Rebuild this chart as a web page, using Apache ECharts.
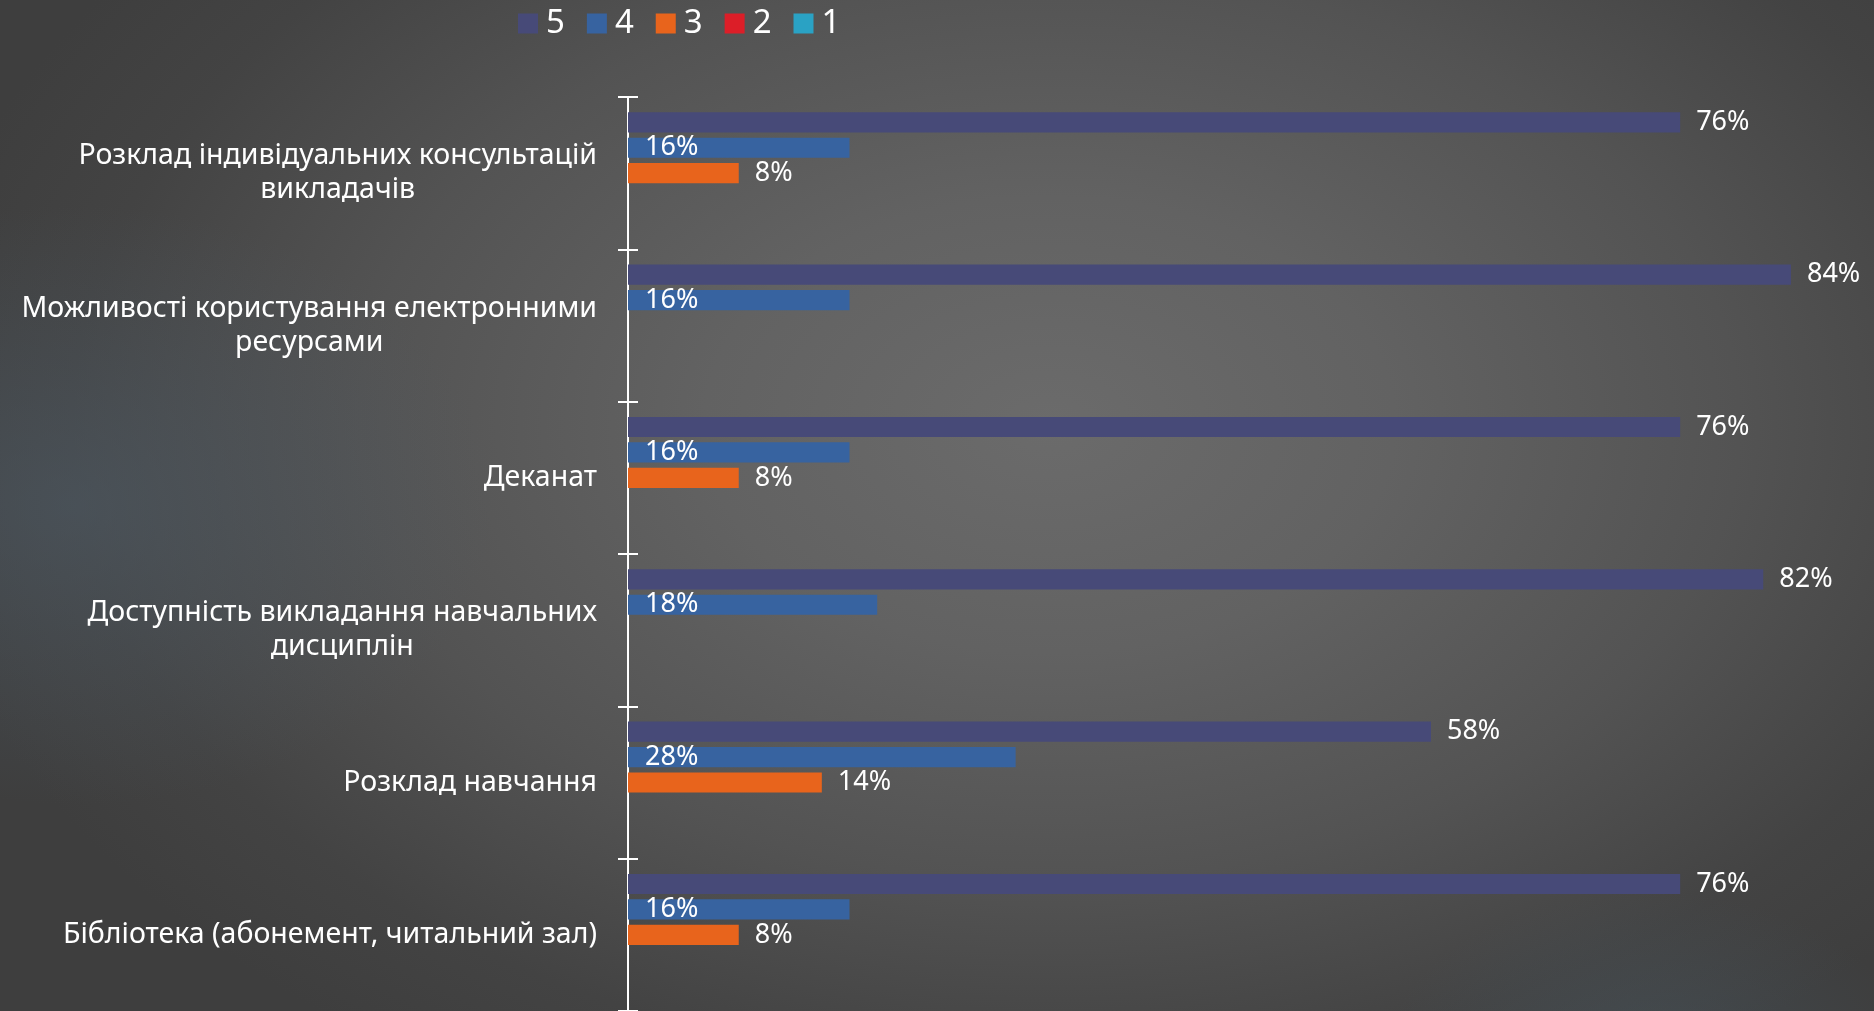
<!DOCTYPE html>
<html>
<head>
<meta charset="utf-8">
<script src="https://cdn.jsdelivr.net/npm/echarts@6/dist/echarts.min.js"></script>
<style>
html,body{margin:0;padding:0;width:1874px;height:1011px;overflow:hidden;}
#bg{position:absolute;left:0;top:0;width:1874px;height:1011px;
background:
 radial-gradient(ellipse 420px 300px at 4% 50%, rgba(78,92,104,0.55) 0%, rgba(78,92,104,0) 100%),
 radial-gradient(ellipse 260px 160px at 88% 104%, rgba(70,82,90,0.6) 0%, rgba(70,82,90,0) 100%),
 radial-gradient(ellipse 1150px 760px at 56% 42%, #6b6b6b 0%, #626262 30%, #535353 60%, #434343 85%, #3e3e3e 100%);}
#chart{position:absolute;left:0;top:0;width:1874px;height:1011px;}
</style>
</head>
<body>
<div id="bg"></div>
<div id="chart"></div>
<script>
var categories = [
  "Розклад індивідуальних консультацій\nвикладачів",
  "Можливості користування електронними\nресурсами",
  "Деканат",
  "Доступність викладання навчальних\nдисциплін",
  "Розклад навчання",
  "Бібліотека (абонемент, читальний зал)"
];
var seriesNames = ["5", "4", "3", "2", "1"];
var values5 = [76, 84, 76, 82, 58, 76];
var values4 = [16, 16, 16, 18, 28, 16];
var values3 = [8, 0, 8, 0, 14, 8];
var values2 = [0, 0, 0, 0, 0, 0];
var values1 = [0, 0, 0, 0, 0, 0];

var FONT = "Noto Sans";
var colors = ["#474a78", "#3763a0", "#e8641c", "#dc1e28", "#2aa2c4"];

function pctLabel(p) { return p.value ? p.value + "%" : ""; }

var chart = echarts.init(document.getElementById('chart'), null, {renderer: 'canvas'});
var labelStyle = {color: '#ffffff', fontFamily: FONT, fontSize: 27};

var option = {
  backgroundColor: 'transparent',
  animation: false,
  color: colors,
  legend: {
    data: seriesNames,
    left: 513,
    top: 2,
    itemWidth: 20,
    itemHeight: 20,
    itemGap: 22,
    icon: 'rect',
    textStyle: {color: '#ffffff', fontFamily: FONT, fontSize: 33, padding: [0, 0, 0, 3]}
  },
  grid: {left: 628, top: 97, width: 1257, height: 915, containLabel: false},
  xAxis: {
    type: 'value', min: 0, max: 90,
    show: false
  },
  yAxis: [{
    type: 'category',
    data: categories,
    inverse: true,
    axisLine: {show: true, lineStyle: {color: '#ffffff', width: 2}},
    axisTick: {show: true, length: 10, inside: false, lineStyle: {color: '#ffffff', width: 2}},
    axisLabel: {
      margin: 31,
      color: '#ffffff',
      fontFamily: FONT,
      fontSize: 28.5,
      formatter: function (v) {
        return v.split('\n').map(function (l) { return '{c|' + l + '}'; }).join('\n');
      },
      rich: {c: {align: 'center', color: '#ffffff', fontFamily: FONT, fontSize: 28.5, lineHeight: 34}}
    },
    splitLine: {show: false}
  }, {
    type: 'category',
    data: categories,
    inverse: true,
    position: 'left',
    axisLine: {show: false},
    axisTick: {show: true, length: 10, inside: true, lineStyle: {color: '#ffffff', width: 2}},
    axisLabel: {show: false},
    splitLine: {show: false}
  }],
  series: [
    {name: '5', type: 'bar', data: values5, barCategoryGap: '20%', barGap: '26%',
     label: Object.assign({show: true, position: 'right', distance: 16, formatter: pctLabel}, labelStyle)},
    {name: '4', type: 'bar', data: values4,
     label: Object.assign({show: true, position: 'insideLeft', distance: 17, formatter: pctLabel}, labelStyle)},
    {name: '3', type: 'bar', data: values3,
     label: Object.assign({show: true, position: 'right', distance: 16, formatter: pctLabel}, labelStyle)},
    {name: '2', type: 'bar', data: values2, label: {show: false}},
    {name: '1', type: 'bar', data: values1, label: {show: false}}
  ]
};
chart.setOption(option);
</script>
</body>
</html>
